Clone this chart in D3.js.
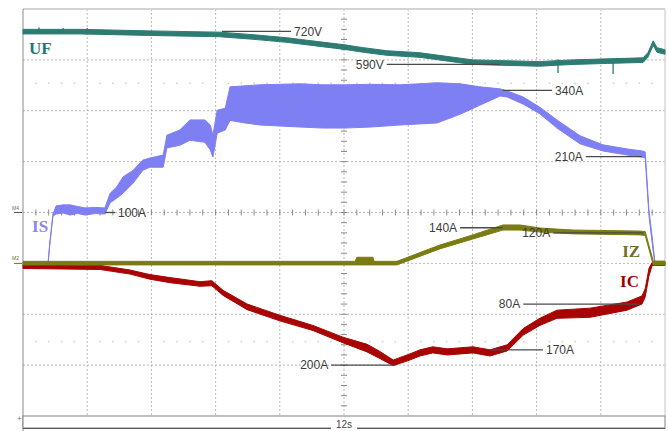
<!DOCTYPE html>
<html>
<head>
<meta charset="utf-8">
<script src="https://cdnjs.cloudflare.com/ajax/libs/d3/7.8.5/d3.min.js"></script>
<style>
body { margin: 0; background: #fff; }
svg { display: block; }
</style>
</head>
<body>
<div id="chart"></div>
<script>
//--------------------------------------------------
// data (time in s, each sample = [t, min, max] like a peak-detect scope)
//--------------------------------------------------

var sweep = 12          // 12 s over 10 divisions
var sweepLabel = "12s"

// UF in V
var ufTrace = [
	[0, 710, 728], [1.07, 710, 728], [2.37, 704, 722], [3.12, 701, 719], [3.68, 699, 717],
	[4.30, 689, 707], [4.93, 677, 695], [5.55, 661, 679], [6.02, 649, 667], [6.36, 638, 656],
	[6.80, 626, 644], [7.42, 618, 636], [7.98, 602, 620], [8.41, 590, 608], [8.92, 587, 605],
	[9.66, 583, 601], [9.98, 587, 605], [10.28, 590, 608], [10.92, 594, 612], [11.59, 598, 616],
	[11.68, 618, 636], [11.78, 665, 683], [11.85, 638, 656], [12, 630, 648]
]
var ufSpikes = [[0.30, 712, 735], [0.75, 712, 733], [1.20, 712, 733], [10.0, 556, 610], [11.03, 552, 606]]

// IS in A
var isTrace = [
	[0, 0, 2], [0.47, 0, 2], [0.50, 36, 40], [0.56, 93, 97], [0.62, 97, 113], [0.75, 99, 115],
	[0.88, 95, 115], [1.02, 98, 112], [1.16, 95, 109], [1.35, 98, 110], [1.53, 97, 109],
	[1.63, 119, 138], [1.75, 128, 150], [1.87, 138, 170], [2.06, 158, 183], [2.24, 183, 203],
	[2.37, 189, 207], [2.62, 189, 213], [2.69, 227, 252], [2.93, 232, 262], [3.12, 242, 282],
	[3.40, 238, 282], [3.50, 223, 272], [3.55, 209, 252], [3.63, 256, 301], [3.78, 262, 305],
	[3.87, 281, 347], [4.15, 276, 349], [4.43, 272, 351], [4.80, 270, 352], [5.18, 268, 353],
	[5.60, 266, 351], [6.02, 266, 351], [6.50, 268, 352], [7.05, 272, 351], [7.40, 274, 353],
	[7.74, 276, 355], [8.17, 293, 353], [8.54, 311, 347], [8.92, 329, 343], [9.05, 327, 339],
	[9.35, 313, 327], [9.66, 294, 307], [9.98, 266, 282], [10.41, 235, 251], [10.84, 221, 233],
	[11.29, 213, 225], [11.57, 209, 221], [11.63, 207, 219], [11.70, 94, 105], [11.76, 40, 52],
	[11.81, 0, 4], [12, 0, 2]
]

// IZ in A
var izTrace = [
	[0, -6, 8], [6.21, -6, 8], [6.24, -6, 24], [6.54, -6, 24], [6.56, -6, 8], [6.99, -6, 8],
	[7.79, 57, 72], [8.41, 96, 112], [8.97, 131, 151], [9.29, 131, 151], [9.66, 123, 139],
	[10.28, 116, 131], [11.53, 112, 127], [11.63, 110, 125], [11.78, -6, 9], [12, -6, 9]
]

// IC in A (drawn downward)
var icTrace = [
	[0, 2, 10], [1.44, 4, 12], [2.0, 13, 21], [2.37, 22, 31], [2.75, 28, 38], [3.31, 36, 45],
	[3.53, 34, 44], [3.74, 53, 63], [4.19, 80, 91], [4.80, 102, 113], [5.42, 122, 132],
	[5.98, 145, 156], [6.43, 159, 174], [6.67, 173, 187], [6.92, 190, 201], [7.23, 178, 190],
	[7.42, 170, 182], [7.66, 164, 176], [7.93, 168, 180], [8.41, 164, 176], [8.73, 170, 182],
	[9.05, 160, 172], [9.35, 128, 141], [9.66, 108, 122], [9.98, 92, 108], [10.60, 88, 106],
	[11.29, 76, 92], [11.57, 64, 80], [11.63, 50, 66], [11.70, 10, 25], [11.76, -2, 4], [12, -2, 4]
]

// labels with leader lines
var annotations = [
	{ch: "UF", text: "720V", value: 720, t0: 3.72, t1: 5.01, side: "right"},
	{ch: "UF", text: "590V", value: 590, t0: 6.80, t1: 8.92, side: "left"},
	{ch: "IS", text: "340A", value: 340, t0: 8.97, t1: 9.89, side: "right"},
	{ch: "IS", text: "210A", value: 210, t0: 10.52, t1: 11.57, side: "left"},
	{ch: "IS", text: "100A", value: 100, t0: 1.53, t1: 1.72, side: "right"},
	{ch: "IZ", text: "140A", value: 140, t0: 8.17, t1: 8.97, side: "left"},
	{ch: "IZ", text: "120A", value: 120, t0: 9.91, t1: 11.59, side: "left"},
	{ch: "IC", text: "200A", value: 200, t0: 5.76, t1: 6.93, side: "left"},
	{ch: "IC", text: "170A", value: 170, t0: 8.73, t1: 9.72, side: "right"},
	{ch: "IC", text: "80A", value: 80, t0: 9.35, t1: 11.53, side: "left"}
]

//--------------------------------------------------
// scope settings
//--------------------------------------------------

var channels = {
	UF: {perDiv: 200, offset: -0.04, color: "#2d7b73", label: "#207870", name: {t: 0.11, d: 3.23}},
	IS: {perDiv: 100, offset: -1, color: "#7f7ff4", label: "#8585f0", name: {t: 0.17, d: -0.27}},
	IZ: {perDiv: 200, offset: -1, color: "#7b7b14", label: "#6f6f2a", name: {t: 11.2, d: -0.75}},
	IC: {perDiv: -100, offset: -1, color: "#a80404", label: "#a00000", name: {t: 11.16, d: -1.35}}
}

var plot = {left: 23, right: 665, top: 9, bottom: 416}
var W = 668, H = 431

var svg = d3.select("#chart").append("svg")
	.attr("width", W)
	.attr("height", H)

var x = d3.scaleLinear().domain([0, sweep]).range([plot.left, plot.right])
var div = d3.scaleLinear().domain([-4, 4]).range([plot.bottom, plot.top])

Object.keys(channels).forEach(function(k) {
	var c = channels[k]
	c.y = d3.scaleLinear().domain([0, c.perDiv]).range([div(c.offset), div(c.offset + 1)])
})

//--------------------------------------------------
// graticule
//--------------------------------------------------

var grid = svg.append("g").attr("class", "grid")

grid.selectAll("line.v").data(d3.range(1, 10)).enter().append("line")
	.attr("x1", function(d) { return x(d * sweep / 10) })
	.attr("x2", function(d) { return x(d * sweep / 10) })
	.attr("y1", plot.top).attr("y2", plot.bottom)
	.attr("stroke", "#b8b8b8").attr("stroke-dasharray", "2,2")

grid.selectAll("line.h").data(d3.range(-3, 4)).enter().append("line")
	.attr("y1", function(d) { return div(d) })
	.attr("y2", function(d) { return div(d) })
	.attr("x1", plot.left).attr("x2", plot.right)
	.attr("stroke", "#b8b8b8").attr("stroke-dasharray", "2,2")

// minor ticks on centre axes
grid.selectAll("line.tx").data(d3.range(1, 50)).enter().append("line")
	.attr("x1", function(d) { return x(d * sweep / 50) })
	.attr("x2", function(d) { return x(d * sweep / 50) })
	.attr("y1", div(0) - 3).attr("y2", div(0) + 3)
	.attr("stroke", "#8a8a8a")

grid.selectAll("line.ty").data(d3.range(-19, 20)).enter().append("line")
	.attr("y1", function(d) { return div(d / 5) })
	.attr("y2", function(d) { return div(d / 5) })
	.attr("x1", x(sweep / 2) - 3).attr("x2", x(sweep / 2) + 3)
	.attr("stroke", "#8a8a8a")

// dotted marker rows
;[2.54, -2.54].forEach(function(r) {
	grid.selectAll(null).data(d3.range(1, 50).filter(function(d) { return d % 5 != 0 })).enter().append("rect")
		.attr("x", function(d) { return x(d * sweep / 50) - 0.75 })
		.attr("y", div(r) - 0.75)
		.attr("width", 1.5).attr("height", 1.5)
		.attr("fill", "#cfcfcf")
})

// frame
svg.append("line").attr("x1", plot.left).attr("x2", plot.right).attr("y1", plot.top).attr("y2", plot.top)
	.attr("stroke", "#d4d4d4").attr("stroke-width", 2)
svg.append("line").attr("x1", plot.right).attr("x2", plot.right).attr("y1", plot.top).attr("y2", plot.bottom)
	.attr("stroke", "#c4c4c4")
svg.append("line").attr("x1", plot.left).attr("x2", plot.left).attr("y1", plot.top).attr("y2", H)
	.attr("stroke", "#8c8c8c")

// time bar
svg.append("rect")
	.attr("x", plot.left).attr("y", plot.bottom)
	.attr("width", plot.right - plot.left).attr("height", 12)
	.attr("fill", "#fff").attr("stroke", "#808080")
svg.append("line").attr("x1", plot.left).attr("x2", plot.right).attr("y1", plot.bottom + 12.5).attr("y2", plot.bottom + 12.5)
	.attr("stroke", "#555")
svg.append("rect")
	.attr("x", x(sweep / 2) - 13).attr("y", plot.bottom + 6)
	.attr("width", 26).attr("height", 9).attr("fill", "#fff")
svg.append("text")
	.attr("x", x(sweep / 2)).attr("y", plot.bottom + 12)
	.attr("text-anchor", "middle")
	.style("font", "10px 'Liberation Sans', Arial, sans-serif")
	.attr("fill", "#444")
	.text(sweepLabel)

// channel markers on the left
var markers = svg.append("g").style("font", "5px 'Liberation Sans', Arial, sans-serif")
markers.append("text").attr("x", 12).attr("y", div(0) - 3).attr("fill", "#5a7a5a").text("M4")
markers.append("line").attr("x1", 14).attr("x2", 22).attr("y1", div(0)).attr("y2", div(0)).attr("stroke", "#555")
markers.append("text").attr("x", 12).attr("y", div(-1) - 3).attr("fill", "#6b6b2a").text("M2")
markers.append("line").attr("x1", 14).attr("x2", 22).attr("y1", div(-1)).attr("y2", div(-1)).attr("stroke", "#6b6b2a")
markers.append("text").attr("x", 17).attr("y", plot.bottom + 5).attr("fill", "#4a8a4a")
	.style("font-size", "8px").text("+")

//--------------------------------------------------
// traces
//--------------------------------------------------

function band(c) {
	return d3.area()
		.x(function(d) { return x(d[0]) })
		.y0(function(d) { return c.y(d[1]) })
		.y1(function(d) { return c.y(d[2]) })
}

var traces = svg.append("g").attr("class", "traces")

function drawTrace(data, key) {
	var c = channels[key]
	traces.append("path")
		.datum(data)
		.attr("d", band(c))
		.attr("fill", c.color)
		.attr("stroke", c.color)
		.attr("stroke-width", 1)
		.attr("stroke-linejoin", "round")
}

drawTrace(ufTrace, "UF")
traces.selectAll("line.spk").data(ufSpikes).enter().append("line")
	.attr("x1", function(d) { return x(d[0]) })
	.attr("x2", function(d) { return x(d[0]) })
	.attr("y1", function(d) { return channels.UF.y(d[1]) })
	.attr("y2", function(d) { return channels.UF.y(d[2]) })
	.attr("stroke", channels.UF.color).attr("stroke-width", 1.3)

drawTrace(icTrace, "IC")
drawTrace(isTrace, "IS")
drawTrace(izTrace, "IZ")

//--------------------------------------------------
// labels
//--------------------------------------------------

var notes = svg.append("g").attr("class", "notes")

notes.selectAll("line").data(annotations).enter().append("line")
	.attr("x1", function(d) { return x(d.t0) })
	.attr("x2", function(d) { return x(d.t1) })
	.attr("y1", function(d) { return channels[d.ch].y(d.value) })
	.attr("y2", function(d) { return channels[d.ch].y(d.value) })
	.attr("stroke", "#4a4a4a").attr("stroke-width", 1.3)

notes.selectAll("text").data(annotations).enter().append("text")
	.attr("x", function(d) { return d.side == "right" ? x(d.t1) + 3 : x(d.t0) - 3 })
	.attr("y", function(d) { return channels[d.ch].y(d.value) })
	.attr("dy", "0.36em")
	.attr("text-anchor", function(d) { return d.side == "right" ? "start" : "end" })
	.style("font", "12px 'Liberation Sans', Arial, sans-serif")
	.attr("fill", "#3c3c3c")
	.text(function(d) { return d.text })

svg.append("g").selectAll("text").data(Object.keys(channels)).enter().append("text")
	.attr("x", function(d) { return x(channels[d].name.t) })
	.attr("y", function(d) { return div(channels[d].name.d) })
	.attr("dy", "0.35em")
	.style("font", "bold 17px 'Liberation Serif', 'Times New Roman', serif")
	.attr("fill", function(d) { return channels[d].label })
	.text(function(d) { return d })
</script>
</body>
</html>
